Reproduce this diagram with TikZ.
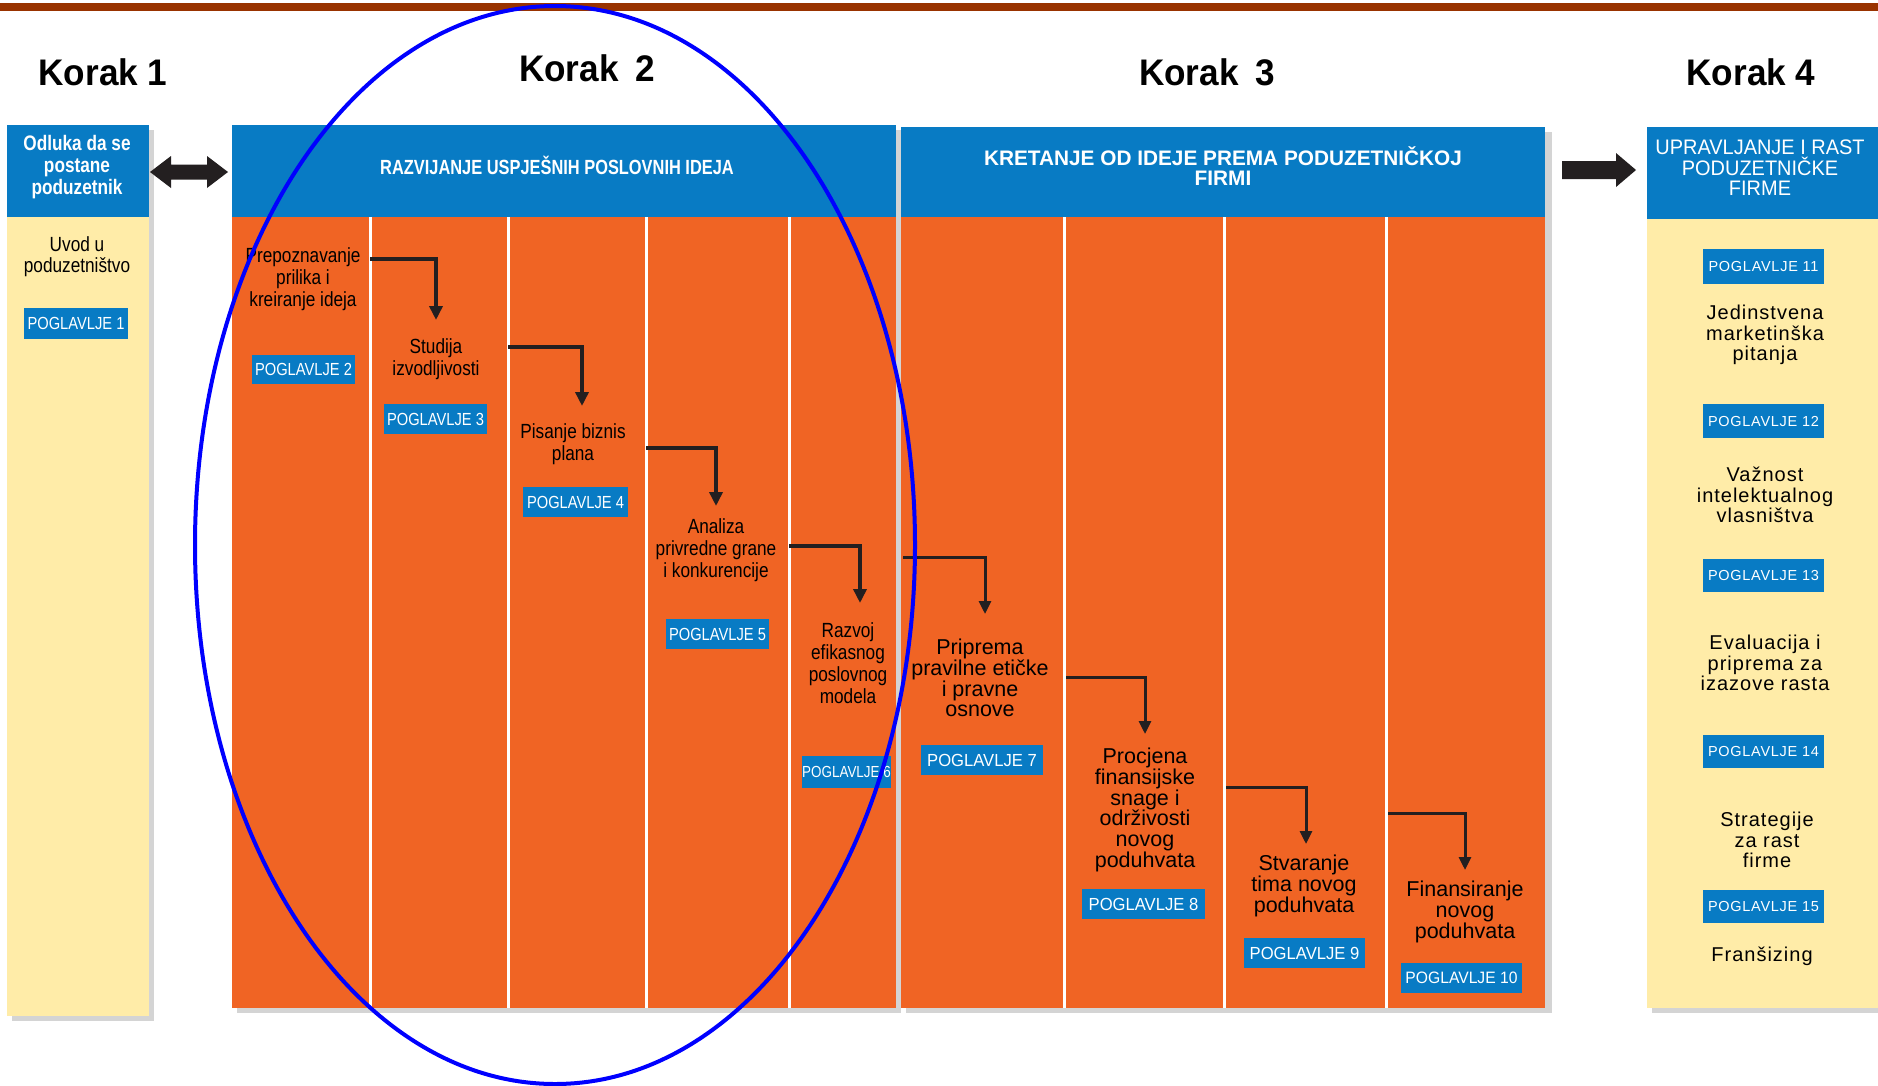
\documentclass[tikz,border=0pt]{standalone}
\usepackage{fontspec}
\setmainfont{Liberation Sans}
\newfontfamily\nar[FakeStretch=0.84]{Liberation Sans}
\newfontfamily\midw[FakeStretch=0.95]{Liberation Sans}
\newfontfamily\wide[LetterSpace=5]{Liberation Sans}
\newfontfamily\hdA[FakeStretch=0.82]{Liberation Sans}
\newfontfamily\hdB[FakeStretch=0.80]{Liberation Sans}
\newfontfamily\hdC[FakeStretch=0.99]{Liberation Sans}
\usetikzlibrary{arrows.meta}
\definecolor{hblue}{RGB}{8,123,196}
\definecolor{org}{RGB}{240,100,36}
\definecolor{yel}{RGB}{255,236,168}
\definecolor{dark}{RGB}{35,31,32}
\definecolor{brick}{RGB}{153,51,0}
\definecolor{shad}{RGB}{212,212,212}
\begin{document}
\begin{tikzpicture}[x=1pt,y=-1pt,
  korak/.style={font=\midw\bfseries\fontsize{37}{40}\selectfont, inner sep=0},
  hdrtxt/.style={text=white, align=center, inner sep=0, font=\nar\fontsize{20}{20.5}\selectfont},
  hdrtxtw/.style={text=white, align=center, inner sep=0, font=\midw\fontsize{21}{20.5}\selectfont},
  txtn/.style={text=black, align=center, inner sep=0, font=\nar\fontsize{20.5}{22}\selectfont},
  txtk/.style={text=black, align=center, inner sep=0, font=\fontsize{21.5}{20.8}\selectfont},
  txtw/.style={text=black, align=center, inner sep=0, font=\wide\fontsize{20}{20.5}\selectfont},
  pog/.style={fill=hblue, text=white, inner sep=0, minimum height=30, font=\nar\fontsize{17.5}{18}\selectfont},
  pogk/.style={fill=hblue, text=white, inner sep=0, minimum height=30, minimum width=122, font=\midw\fontsize{17.5}{18}\selectfont},
  pogw/.style={fill=hblue, text=white, inner sep=0, minimum height=34, minimum width=121, font=\wide\fontsize{14.5}{15}\selectfont},
  flow/.style={draw=dark, line width=4.5, -{Triangle[width=13pt,length=14pt]}},
  flowt/.style={draw=dark, line width=3, -{Triangle[width=12pt,length=13pt]}},
  divider/.style={draw=white, line width=3}
]
\useasboundingbox (0,0) rectangle (1878,1085);
\fill[white] (0,0) rectangle (1878,1085);
% top bar
\fill[brick] (0,3) rectangle (1878,11);

% shadows
\fill[shad] (12,130) rectangle (154,1021);
\fill[shad] (237,130) rectangle (901,1013);
\fill[shad] (906,132) rectangle (1552,1013);
\fill[shad] (1652,132) rectangle (1878,1013);

% Korak 1 column
\fill[yel] (7,217) rectangle (149,1016);
\fill[hblue] (7,125) rectangle (149,217);
% Korak 2 block
\fill[org] (232,217) rectangle (896,1008);
\fill[hblue] (232,125) rectangle (896,217);
% Korak 3 block
\fill[org] (901,217) rectangle (1545,1008);
\fill[hblue] (901,127) rectangle (1545,217);
% Korak 4 column
\fill[yel] (1647,219) rectangle (1878,1008);
\fill[hblue] (1647,127) rectangle (1878,219);

% dividers
\foreach \xx in {370,508,646,789,1064,1224,1386}
  \draw[divider] (\xx,217) -- (\xx,1008);

% step labels
\node[korak] (k1) at (103,72) {Korak 1};
\node[korak] (k2) at (587,68) {Korak\hspace{0.45em}2};
\node[korak] (k3) at (1207,72) {Korak\hspace{0.45em}3};
\node[korak] (k4) at (1751,72) {Korak 4};

% headers
\node[hdrtxt, font=\hdA\bfseries\fontsize{21}{22}\selectfont] (h1) at (77,167) {Odluka da se\\postane\\poduzetnik};
\node[hdrtxt, font=\hdB\bfseries\fontsize{20.5}{21}\selectfont] (h2) at (557,165) {RAZVIJANJE USPJEŠNIH POSLOVNIH IDEJA};
\node[hdrtxt, font=\hdC\bfseries\fontsize{21}{20.5}\selectfont] (h3) at (1223,166) {KRETANJE OD IDEJE PREMA PODUZETNIČKOJ\\FIRMI};
\node[hdrtxtw] (h4) at (1760,168) {UPRAVLJANJE I RAST\\PODUZETNIČKE\\FIRME};

% connecting block arrows
\fill[dark] (150,172) -- (171,156) -- (171,164.5) -- (207,164.5) -- (207,156) -- (228,172)
  -- (207,188) -- (207,179.5) -- (171,179.5) -- (171,188) -- cycle;
\fill[dark] (1562,161) -- (1616,161) -- (1616,153) -- (1636,170) -- (1616,187) -- (1616,179) -- (1562,179) -- cycle;

% Korak 1 body
\node[txtn, font=\nar\fontsize{20.5}{21}\selectfont] (u1) at (77,256.5) {Uvod u\\poduzetništvo};
\node[pog, minimum width=104, minimum height=31] (p1) at (76,323.5) {POGLAVLJE 1};

% Korak 2 body
\node[txtn] (t1) at (303,279) {Prepoznavanje\\prilika i\\kreiranje ideja};
\node[pog, minimum width=103, minimum height=29] (p2) at (303.5,369.5) {POGLAVLJE 2};
\node[txtn] (t2) at (436,359) {Studija\\izvodljivosti};
\node[pog, minimum width=103] (p3) at (435.5,419) {POGLAVLJE 3};
\node[txtn] (t3) at (573,444.5) {Pisanje biznis\\plana};
\node[pog, minimum width=105] (p4) at (575.5,502) {POGLAVLJE 4};
\node[txtn] (t4) at (716,550) {Analiza\\privredne grane\\i konkurencije};
\node[pog, minimum width=103] (p5) at (717.5,634) {POGLAVLJE 5};
\node[txtn] (t5) at (848,663.5) {Razvoj\\efikasnog\\poslovnog\\modela};
\node[pog, minimum width=89, minimum height=32, font=\nar\fontsize{16}{16}\selectfont] (p6) at (846.5,772) {POGLAVLJE 6};

% Korak 3 body
\node[txtk] (t6) at (980,678) {Priprema\\pravilne etičke\\i pravne\\osnove};
\node[pogk] (p7) at (982,760) {POGLAVLJE 7};
\node[txtk] (t7) at (1145,810) {Procjena\\finansijske\\snage i\\održivosti\\novog\\poduhvata};
\node[pogk, minimum width=123] (p8) at (1143.5,904) {POGLAVLJE 8};
\node[txtk] (t8) at (1304,886) {Stvaranje\\tima novog\\poduhvata};
\node[pogk, minimum width=121] (p9) at (1304.5,953) {POGLAVLJE 9};
\node[txtk] (t9) at (1465,912) {Finansiranje\\novog\\poduhvata};
\node[pogk, minimum width=121, font=\midw\fontsize{16.5}{17}\selectfont] (p10) at (1461.5,978) {POGLAVLJE 10};

% Korak 4 body
\node[pogw, minimum height=35] (p11) at (1763.5,266.5) {POGLAVLJE 11};
\node[txtw] (w1) at (1765,335) {Jedinstvena\\marketinška\\pitanja};
\node[pogw] (p12) at (1763.5,421) {POGLAVLJE 12};
\node[txtw] (w2) at (1765,495) {Važnost\\intelektualnog\\vlasništva};
\node[pogw, minimum height=33] (p13) at (1763.5,575.5) {POGLAVLJE 13};
\node[txtw] (w3) at (1765,663) {Evaluacija i\\priprema za\\izazove rasta};
\node[pogw, minimum height=33] (p14) at (1763.5,751.5) {POGLAVLJE 14};
\node[txtw] (w4) at (1767,840) {Strategije\\za rast\\firme};
\node[pogw, minimum height=33] (p15) at (1763.5,906.5) {POGLAVLJE 15};
\node[txtw] (w5) at (1762,956) {Franšizing};

% flow arrows
\coordinate (a1s) at (370,259);  \coordinate (a1e) at (436,320);
\coordinate (a2s) at (508,347);  \coordinate (a2e) at (582,406);
\coordinate (a3s) at (646,448);  \coordinate (a3e) at (716,506);
\coordinate (a4s) at (789,546);  \coordinate (a4e) at (860,603);
\coordinate (a5s) at (903,557);  \coordinate (a5e) at (985,614);
\coordinate (a6s) at (1066,677); \coordinate (a6e) at (1145,734);
\coordinate (a7s) at (1226,787); \coordinate (a7e) at (1306,844);
\coordinate (a8s) at (1388,813); \coordinate (a8e) at (1465,870);
\draw[flow] (a1s) -| (a1e);
\draw[flow] (a2s) -| (a2e);
\draw[flow] (a3s) -| (a3e);
\draw[flow] (a4s) -| (a4e);
\draw[flowt] (a5s) -| (a5e);
\draw[flowt] (a6s) -| (a6e);
\draw[flowt] (a7s) -| (a7e);
\draw[flowt] (a8s) -| (a8e);

% highlight ellipse
\draw[blue, line width=4] (555,545) ellipse [x radius=360pt, y radius=539pt];
\end{tikzpicture}
\end{document}
